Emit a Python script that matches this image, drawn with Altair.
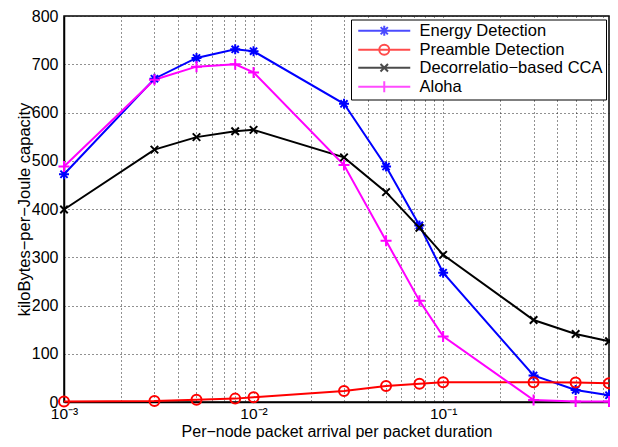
import altair as alt
import pandas as pd

# ---- data ----
x_vals = [0.001, 0.003, 0.005, 0.008, 0.01, 0.03, 0.05, 0.075, 0.1, 0.3, 0.5, 0.75]
series_names = ["Energy Detection", "Preamble Detection", "Decorrelatio\u2212based CCA", "Aloha"]
energy = [472, 670, 713, 731, 727, 618, 488, 366, 268, 55, 25, 14]
preamble = [1, 2, 4.5, 7, 10, 23, 33, 38, 41, 41, 40.5, 39]
decor = [399, 523, 549, 561, 564, 507, 435, 361, 305, 170, 141, 126]
aloha = [488, 668, 695, 700, 683, 491, 334, 210, 136, 4, 1, 1]
colors = ["#0000ff", "#ff0000", "#000000", "#ff00ff"]

x_ticks = [k * 10.0 ** e for e in (-3, -2) for k in range(1, 10)] + [k * 0.1 for k in range(1, 8)]
y_ticks = list(range(0, 900, 100))

rows = []
for name, vals in zip(series_names, [energy, preamble, decor, aloha]):
    for xv, yv in zip(x_vals, vals):
        rows.append({"x": xv, "y": yv, "series": name})
df = pd.DataFrame(rows)


def marker_path(kind, dx=0.0):
    def p(x, y):
        return f"{x + dx:.3f},{y:.3f}"
    if kind == "asterisk":
        a = 0.72
        return (f"M{p(-1,0)}L{p(1,0)}M{p(0,-1)}L{p(0,1)}"
                f"M{p(-a,-a)}L{p(a,a)}M{p(-a,a)}L{p(a,-a)}")
    if kind == "circle":
        return f"M{p(1,0)}A1,1,0,1,1,{p(-1,0)}A1,1,0,1,1,{p(1,0)}Z"
    if kind == "x":
        a = 0.75
        return f"M{p(-a,-a)}L{p(a,a)}M{p(-a,a)}L{p(a,-a)}"
    b = 1.1
    return f"M{p(-b,0)}L{p(b,0)}M{p(0,-b)}L{p(0,b)}"


kinds = ["asterisk", "circle", "x", "plus"]
marker_paths = [marker_path(k) for k in kinds]
SHIFT = 4.4
legend_paths = [f"M{-5.2 + SHIFT:.3f},0L{5.2 + SHIFT:.3f},0" + marker_path(k, SHIFT) for k in kinds]

FONT = "Liberation Sans"

x_enc = alt.X(
    "x:Q",
    scale=alt.Scale(type="log", domain=[0.001, 0.75], nice=False),
    axis=alt.Axis(
        values=x_ticks,
        title="Per\u2212node packet arrival per packet duration",
        labelExpr="abs(datum.value-0.001)<1e-9 ? '10\u207b\u00b3' : abs(datum.value-0.01)<1e-9 ? '10\u207b\u00b2' : abs(datum.value-0.1)<1e-9 ? '10\u207b\u00b9' : ''",
        labelOverlap=False,
        labelFlush=False,
        labelPadding=4,
        labelFontSize=15.5,
        titleBaseline="alphabetic",
        titleFontSize=16,
        titleY=34,
    ),
)
y_enc = alt.Y(
    "y:Q",
    scale=alt.Scale(domain=[0, 800], nice=False),
    axis=alt.Axis(
        values=y_ticks,
        title="kiloBytes\u2212per\u2212Joule capacity",
        labelPadding=6,
        titlePadding=-1,
    ),
)

color_scale = alt.Scale(domain=series_names, range=colors)

lines = alt.Chart(df).mark_line(strokeWidth=2).encode(
    x=x_enc, y=y_enc,
    color=alt.Color("series:N", scale=color_scale, legend=None),
    order=alt.Order("x:Q"),
)

points = alt.Chart(df).mark_point(size=100, strokeWidth=2, filled=False, opacity=1).encode(
    x=x_enc, y=y_enc,
    color=alt.Color("series:N", scale=color_scale, legend=None),
    shape=alt.Shape("series:N", scale=alt.Scale(domain=series_names, range=marker_paths), legend=None),
)

leg = alt.Legend(
    title=None,
    orient="none",
    legendX=287,
    legendY=3.5,
    padding=3,
    symbolSize=100,
    symbolStrokeWidth=2,
    labelOffset=49,
    labelFont=FONT,
    labelFontSize=16.5,
    labelColor="black",
    rowPadding=0,
    strokeColor="black",
    fillColor="white",
    labelLimit=400,
)

legend_layer = alt.Chart(df).transform_filter("datum.y < -1000").mark_point(
    size=100, strokeWidth=2, filled=False
).encode(
    x=x_enc, y=y_enc,
    color=alt.Color("series:N", scale=color_scale, legend=leg),
    shape=alt.Shape("series:N", scale=alt.Scale(domain=series_names, range=legend_paths), legend=leg),
)

chart = (
    alt.layer(lines, points, legend_layer)
    .resolve_scale(color="independent", shape="independent")
    .properties(
        width=545,
        height=386,
        autosize=alt.AutoSizeParams(type="none"),
        padding={"left": 56, "top": 8, "right": 1, "bottom": 37},
    )
    .configure(font=FONT)
    .configure_view(stroke="black", strokeWidth=1.5)
    .configure_axis(
        domainColor="black",
        domainWidth=1.5,
        ticks=False,
        grid=True,
        gridColor="#222222",
        gridDash=[1, 3],
        gridWidth=1,
        labelFont=FONT,
        labelFontSize=16,
        labelColor="black",
        titleFont=FONT,
        titleFontSize=16.5,
        titleFontWeight="normal",
        titleColor="black",
    )
)

chart.save("out.html", embed_options={"renderer": "svg", "actions": False})
